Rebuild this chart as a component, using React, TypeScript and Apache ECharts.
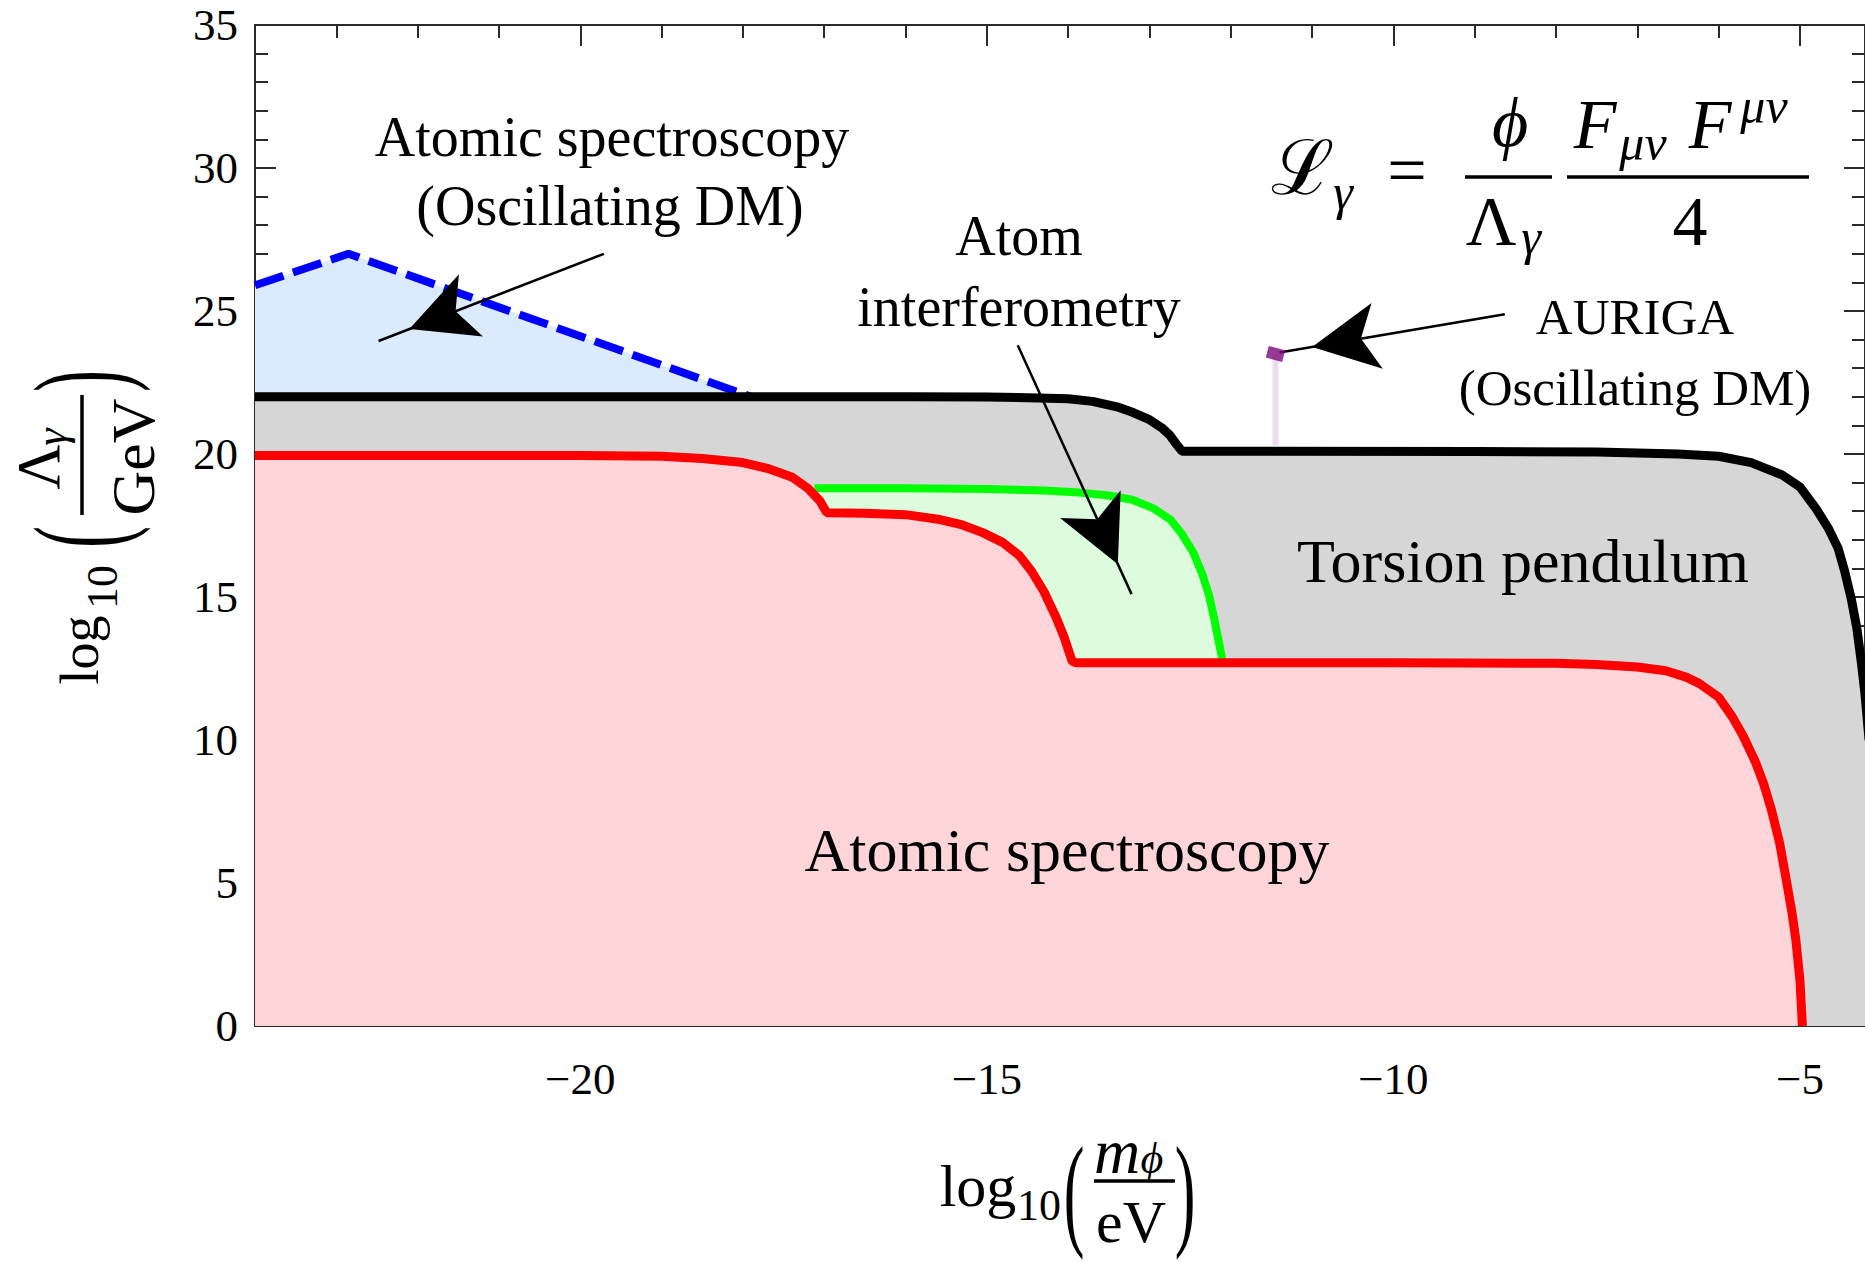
import React, { useEffect, useRef } from "react";
import * as echarts from "echarts";

// ---------- data (log10 m/eV , log10 Lambda/GeV) ----------
const xMajorTicks = [-20, -15, -10, -5];
const xMinorTicks = [-23, -22, -21, -20, -19, -18, -17, -16, -15, -14, -13, -12, -11, -10, -9, -8, -7, -6, -5];

const atomicOscillatingDM = [
  [-24, 25.9], [-22.85, 27.0], [-17.9, 22.0],
];

const torsionPendulum = [
  [-24, 22.0], [-16, 22.0], [-15, 21.99], [-14.5, 21.97], [-14.0, 21.93], [-13.7, 21.84],
  [-13.4, 21.65], [-13.2, 21.45], [-13.0, 21.2], [-12.85, 20.92], [-12.75, 20.66],
  [-12.67, 20.35], [-12.6, 20.1], [-12.0, 20.1], [-9.0, 20.09], [-7.5, 20.07],
  [-6.5, 20.0], [-6.0, 19.92], [-5.6, 19.7], [-5.22, 19.27], [-5.0, 18.85],
  [-4.8, 18.08], [-4.65, 17.4], [-4.53, 16.7], [-4.45, 15.9], [-4.37, 14.95],
  [-4.3, 13.9], [-4.24, 12.6], [-4.2, 11.6], [-4.15, 10.0],
];

const atomInterferometry = [
  [-17.12, 18.8], [-16, 18.8], [-15, 18.78], [-14.3, 18.72], [-13.86, 18.65],
  [-13.5, 18.55], [-13.21, 18.4], [-12.95, 18.1], [-12.74, 17.7], [-12.6, 17.2],
  [-12.46, 16.55], [-12.35, 15.8], [-12.27, 15.09], [-12.2, 14.2], [-12.11, 12.9],
  [-12.09, 12.7],
];

const atomicSpectroscopy = [
  [-24, 19.95], [-20, 19.95], [-19, 19.92], [-18.5, 19.84], [-18.0, 19.7],
  [-17.7, 19.5], [-17.4, 19.2], [-17.2, 18.8], [-17.05, 18.35], [-16.97, 17.95],
  [-16.5, 17.93], [-16.0, 17.88], [-15.6, 17.72], [-15.3, 17.52], [-15.05, 17.25],
  [-14.8, 16.9], [-14.6, 16.45], [-14.45, 15.9], [-14.3, 15.2], [-14.15, 14.3],
  [-14.05, 13.6], [-13.95, 12.75], [-13.9, 12.7], [-10, 12.7], [-8, 12.68],
  [-7.5, 12.64], [-7.0, 12.55], [-6.65, 12.42], [-6.4, 12.2], [-6.24, 11.98],
  [-6.0, 11.5], [-5.83, 10.8], [-5.7, 10.15], [-5.55, 9.25], [-5.45, 8.5],
  [-5.35, 7.55], [-5.25, 6.4], [-5.18, 5.3], [-5.1, 4.0], [-5.05, 3.0],
  [-5.0, 1.6], [-4.97, 0.0],
];

const aurigaBand = [[-11.45, 20.3], [-11.45, 23.45]];
const aurigaPoint = [[-11.45, 23.5]];

const arrowAtomicDM = [[-19.71, 27.0], [-22.48, 23.95]];
const arrowInterferometry = [[-14.62, 23.8], [-13.22, 15.1]];
const arrowAuriga = [[-8.63, 24.89], [-11.4, 23.55]];

// ---------- styling ----------
const SERIF = '"Liberation Serif", "DejaVu Serif", serif';
const AXIS_COLOR = "#2a2a2a";

const txt = (text: string, x: number, y: number, size: number, extra: any = {}) => ({
  type: "text",
  x,
  y,
  silent: true,
  z: 100,
  style: {
    text,
    fontSize: size,
    fontFamily: SERIF,
    fill: "#000",
    align: "center",
    verticalAlign: "middle",
    ...extra,
  },
});
const bar = (x1: number, y1: number, x2: number, y2: number) => ({
  type: "line",
  silent: true,
  z: 100,
  shape: { x1, y1, x2, y2 },
  style: { stroke: "#000", lineWidth: 3.5 },
});
const paren = (p: string, x: number, y: number, size: number) => ({
  ...txt(p, x, y, size, { lineHeight: size * 0.9 }),
  scaleX: 0.5,
});

const it = { fontStyle: "italic" };

function buildOption() {
  const xBase = {
    type: "value",
    min: -24,
    max: -4.2,
    splitLine: { show: false },
  };
  const arrowPair = (a: number[][]) => [{ coord: a[0] }, { coord: a[1] }];

  return {
    animation: false,
    backgroundColor: "#fff",
    grid: { left: 255, top: 21, right: 0, bottom: 236, containLabel: false },
    xAxis: [
      {
        ...xBase,
        position: "bottom",
        axisLine: { show: true, onZero: false, lineStyle: { color: AXIS_COLOR, width: 2 } },
        axisTick: {
          show: true,
          inside: true,
          length: 21,
          customValues: xMajorTicks,
          lineStyle: { color: AXIS_COLOR, width: 2 },
        },
        axisLabel: {
          show: true,
          customValues: xMajorTicks,
          margin: 30,
          fontSize: 45,
          fontFamily: SERIF,
          color: "#000",
          formatter: (v: number) => (v < 0 ? "\u2212" + Math.abs(v) : String(v)),
        },
      },
      {
        ...xBase,
        position: "bottom",
        axisLine: { show: false, onZero: false },
        axisTick: {
          show: true,
          inside: true,
          length: 13,
          customValues: xMinorTicks,
          lineStyle: { color: AXIS_COLOR, width: 2 },
        },
        axisLabel: { show: false },
      },
      {
        ...xBase,
        position: "top",
        axisLine: { show: true, onZero: false, lineStyle: { color: AXIS_COLOR, width: 2 } },
        axisTick: {
          show: true,
          inside: true,
          length: 21,
          customValues: xMajorTicks,
          lineStyle: { color: AXIS_COLOR, width: 2 },
        },
        axisLabel: { show: false },
      },
      {
        ...xBase,
        position: "top",
        axisLine: { show: false, onZero: false },
        axisTick: {
          show: true,
          inside: true,
          length: 13,
          customValues: xMinorTicks,
          lineStyle: { color: AXIS_COLOR, width: 2 },
        },
        axisLabel: { show: false },
      },
    ],
    yAxis: [
      {
        type: "value",
        position: "left",
        min: 0,
        max: 35,
        interval: 5,
        splitLine: { show: false },
        axisLine: { show: true, onZero: false, lineStyle: { color: AXIS_COLOR, width: 2 } },
        axisTick: { show: true, inside: true, length: 21, lineStyle: { color: AXIS_COLOR, width: 2 } },
        minorTick: { show: true, splitNumber: 5, length: 13, lineStyle: { color: AXIS_COLOR, width: 2 } },
        axisLabel: {
          show: true,
          margin: 17,
          fontSize: 45,
          lineHeight: 42,
          padding: [8, 0, 0, 0],
          fontFamily: SERIF,
          color: "#000",
        },
      },
      {
        type: "value",
        position: "right",
        min: 0,
        max: 35,
        interval: 5,
        splitLine: { show: false },
        axisLine: { show: true, onZero: false, lineStyle: { color: AXIS_COLOR, width: 2 } },
        axisTick: { show: true, inside: true, length: 21, lineStyle: { color: AXIS_COLOR, width: 2 } },
        minorTick: { show: true, splitNumber: 5, length: 13, lineStyle: { color: AXIS_COLOR, width: 2 } },
        axisLabel: { show: false },
      },
    ],
    series: [
      {
        type: "line",
        name: "Atomic spectroscopy (Oscillating DM)",
        data: atomicOscillatingDM,
        symbol: "none",
        silent: true,
        lineStyle: { color: "#0000ff", width: 8, type: [30, 10], cap: "butt" },
        areaStyle: { color: "#dbebfd", opacity: 1, origin: "start" },
      },
      {
        type: "line",
        name: "Torsion pendulum",
        data: torsionPendulum,
        symbol: "none",
        silent: true,
        lineStyle: { color: "#000000", width: 9 },
        areaStyle: { color: "#d6d6d6", opacity: 1, origin: "start" },
      },
      {
        type: "line",
        name: "AURIGA band",
        data: aurigaBand,
        symbol: "none",
        silent: true,
        lineStyle: { color: "#eddcef", width: 6 },
      },
      {
        type: "line",
        name: "Atom interferometry",
        data: atomInterferometry,
        symbol: "none",
        silent: true,
        lineStyle: { color: "#00ff00", width: 8 },
        areaStyle: { color: "#ddfcdd", opacity: 1, origin: "start" },
      },
      {
        type: "line",
        name: "Atomic spectroscopy",
        data: atomicSpectroscopy,
        symbol: "none",
        silent: true,
        lineStyle: { color: "#ff0000", width: 9 },
        areaStyle: { color: "#fdd5d8", opacity: 1, origin: "start" },
      },
      {
        type: "scatter",
        name: "AURIGA",
        data: aurigaPoint,
        symbol: "rect",
        symbolSize: [17, 12],
        symbolRotate: -15,
        silent: true,
        itemStyle: { color: "#7b0a7b" },
        z: 5,
        markLine: {
          silent: true,
          animation: false,
          symbol: ["none", "arrow"],
          symbolSize: [50, 66],
          symbolOffset: [[0, 0], [0, 33]],
          label: { show: false },
          emphasis: { disabled: true },
          lineStyle: { color: "#000", width: 2.5, type: "solid" },
          itemStyle: { color: "#000" },
          data: [arrowPair(arrowAtomicDM), arrowPair(arrowInterferometry), arrowPair(arrowAuriga)],
        },
      },
    ],
    graphic: [
      // annotations
      txt("Atomic spectroscopy", 612, 137, 56),
      txt("(Oscillating DM)", 610, 206, 56),
      txt("Atom", 1019, 236, 56),
      txt("interferometry", 1019, 307, 56),
      txt("AURIGA", 1635, 317, 51),
      txt("(Oscillating DM)", 1635, 388, 51),
      txt("Torsion pendulum", 1523, 561, 62),
      txt("Atomic spectroscopy", 1067, 850, 62),
      // formula
      txt("\u2112", 1302, 168, 76),
      txt("\u03B3", 1343, 192, 50, it),
      txt("=", 1407, 170, 70),
      bar(1465, 177, 1552, 177),
      txt("\u03D5", 1510, 122, 70, it),
      txt("\u039B", 1491, 221, 70),
      txt("\u03B3", 1531, 237, 50, it),
      bar(1567, 177, 1809, 177),
      txt("F", 1595, 124, 70, it),
      txt("\u03BC\u03BD", 1643, 143, 50, it),
      txt("F", 1710, 124, 70, it),
      txt("\u03BC\u03BD", 1764, 106, 50, it),
      txt("4", 1690, 221, 70),
      // x-axis title
      {
        type: "group",
        x: 1134,
        y: 1181,
        children: [
          txt("log", -156, 5, 60),
          txt("10", -95, 24, 44),
          paren("(", -60, 10, 124),
          bar(-40, 0, 41, 0),
          txt("m", -17, -30, 64, it),
          txt("\u03D5", 18, -23, 44, it),
          txt("eV", -3, 41, 60, { lineHeight: 44 }),
          paren(")", 51, 10, 124),
        ],
      },
      // y-axis title (rotated)
      {
        type: "group",
        x: 82,
        y: 455,
        rotation: Math.PI / 2,
        children: [
          txt("log", -195, -2, 54),
          txt("10", -132, 20, 44),
          paren("(", -82, -3, 130),
          bar(-60, 0, 60, 0),
          txt("\u039B", -12, -44, 62),
          txt("\u03B3", 18, -31, 44, it),
          txt("GeV", -2, 51, 62),
          paren(")", 74, -3, 130),
        ],
      },
    ],
  };
}

export default function App() {
  const ref = useRef<HTMLDivElement>(null);
  useEffect(() => {
    document.body.style.margin = "0";
    const chart = echarts.init(ref.current!, null, { renderer: "svg" });
    chart.setOption(buildOption() as any);
    return () => chart.dispose();
  }, []);
  return <div ref={ref} style={{ width: 1865, height: 1262, background: "#fff" }} />;
}
